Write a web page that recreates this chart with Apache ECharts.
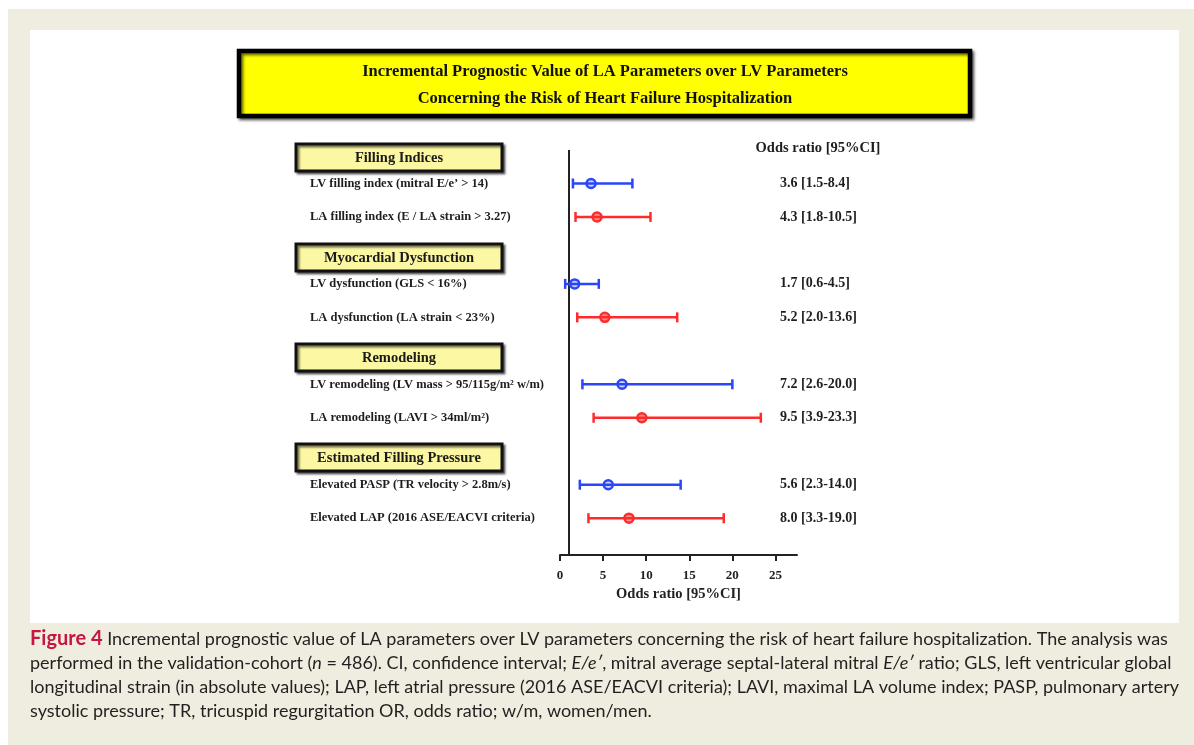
<!DOCTYPE html>
<html lang="en">
<head>
    <meta charset="utf-8">
    <title>Incremental Prognostic Value of LA Parameters</title>
    <script src="https://cdn.jsdelivr.net/npm/echarts@6.0.0/dist/echarts.min.js"></script>
    <style>
        html, body { margin: 0; padding: 0; background: #ffffff; }
        #chart { width: 1194px; height: 745px; }
    </style>
</head>
<body>
<div id="chart"></div>

<script type="text/javascript">
    // data
    var groupNames = ['Filling Indices', 'Myocardial Dysfunction', 'Remodeling', 'Estimated Filling Pressure'];
    var rowLabels = [
        'LV filling index (mitral E/e\u2019 > 14)',
        'LA filling index (E / LA strain > 3.27)',
        'LV dysfunction (GLS < 16%)',
        'LA dysfunction (LA strain < 23%)',
        'LV remodeling (LV mass > 95/115g/m\u00b2 w/m)',
        'LA remodeling (LAVI > 34ml/m\u00b2)',
        'Elevated PASP (TR velocity > 2.8m/s)',
        'Elevated LAP (2016 ASE/EACVI criteria)'
    ];
    var rowKind = ['LV', 'LA', 'LV', 'LA', 'LV', 'LA', 'LV', 'LA'];
    var oddsRatio = [3.6, 4.3, 1.7, 5.2, 7.2, 9.5, 5.6, 8.0];
    var ciLower = [1.5, 1.8, 0.6, 2.0, 2.6, 3.9, 2.3, 3.3];
    var ciUpper = [8.4, 10.5, 4.5, 13.6, 20.0, 23.3, 14.0, 19.0];
    var xTicks = [0, 5, 10, 15, 20, 25];

    var kindColor = { LV: '#2a46f7', LA: '#ff2a2a' };
    var kindFill = { LV: 'rgba(42,70,247,0.25)', LA: 'rgba(255,42,42,0.55)' };
    var serif = '"Liberation Serif", "DejaVu Serif", serif';
    var sans = 'Lato, "Open Sans", sans-serif';

    // every group takes one header slot and two row slots
    var slotOf = function(i) { return i + Math.floor(i / 2) + 1; };
    var rowSlots = [];
    var slotLabel = {};
    var slotOR = {};
    var barData = [];
    for (var i = 0; i < rowLabels.length; i++) {
        var s = slotOf(i);
        rowSlots.push(s);
        slotLabel[s] = rowLabels[i];
        slotOR[s] = oddsRatio[i].toFixed(1) + ' [' + ciLower[i].toFixed(1) + '-' + ciUpper[i].toFixed(1) + ']';
        barData.push([s, ciLower[i], oddsRatio[i], ciUpper[i], rowKind[i] === 'LV' ? 0 : 1]);
    }

    function renderBar(params, api) {
        var slot = api.value(0);
        var lo = api.coord([api.value(1), slot]);
        var mid = api.coord([api.value(2), slot]);
        var hi = api.coord([api.value(3), slot]);
        var kind = api.value(4) === 0 ? 'LV' : 'LA';
        var c = kindColor[kind];
        var st = { stroke: c, lineWidth: 2.5 };
        return {
            type: 'group',
            children: [
                { type: 'line', shape: { x1: lo[0], y1: lo[1], x2: hi[0], y2: hi[1] }, style: st },
                { type: 'line', shape: { x1: lo[0], y1: lo[1] - 5, x2: lo[0], y2: lo[1] + 5 }, style: st },
                { type: 'line', shape: { x1: hi[0], y1: hi[1] - 5, x2: hi[0], y2: hi[1] + 5 }, style: st },
                { type: 'circle', shape: { cx: mid[0], cy: mid[1], r: 4.5 }, style: { fill: kindFill[kind], stroke: c, lineWidth: 2.5 } }
            ]
        };
    }

    // header boxes on the left
    var headerGraphics = [];
    for (var g = 0; g < groupNames.length; g++) {
        headerGraphics.push({
            type: 'rect',
            shape: { x: 296, y: 144 + g * 100, width: 206, height: 27 },
            style: {
                fill: '#fbf7a2', stroke: '#111', lineWidth: 3,
                shadowBlur: 2, shadowOffsetX: 2, shadowOffsetY: 2, shadowColor: 'rgba(0,0,0,0.55)'
            },
            z: 10
        });
        headerGraphics.push({
            type: 'text',
            x: 399, y: 158 + g * 100,
            style: {
                text: groupNames[g], fill: '#1a1a1a',
                font: 'bold 14.5px ' + serif, align: 'center', verticalAlign: 'middle'
            },
            z: 11
        });
    }

    var captionLines = [
        '{r|Figure 4} Incremental prognostic value of LA parameters over LV parameters concerning the risk of heart failure hospitalization. The analysis was',
        'performed in the validation-cohort ({i|n} = 486). CI, confidence interval; {i|E/e\u2032}, mitral average septal-lateral mitral {i|E/e\u2032} ratio; GLS, left ventricular global',
        'longitudinal strain (in absolute values); LAP, left atrial pressure (2016 ASE/EACVI criteria); LAVI, maximal LA volume index; PASP, pulmonary artery',
        'systolic pressure; TR, tricuspid regurgitation OR, odds ratio; w/m, women/men.'
    ];
    var captionGraphics = captionLines.map(function(line, k) {
        return {
            type: 'text',
            x: 30, y: 639 + k * 24,
            style: {
                text: line, fill: '#231f20',
                font: '18px ' + sans,
                verticalAlign: 'middle',
                rich: {
                    r: { fill: '#c4163f', font: 'bold 20px ' + sans },
                    i: { font: 'italic 18px ' + sans, fill: '#231f20' }
                }
            }
        };
    });

    var myChart = echarts.init(document.getElementById('chart'), null, { renderer: 'canvas' });
    var option = {
        backgroundColor: '#ffffff',
        animation: false,
        grid: { left: 560, right: 397, top: 150, bottom: 190 },
        xAxis: {
            type: 'value',
            position: 'bottom',
            min: 0,
            max: 27.5,
            axisLine: { show: true, onZero: false, lineStyle: { color: '#222', width: 2 } },
            axisTick: { show: true, customValues: xTicks, length: 6, lineStyle: { color: '#222', width: 2 } },
            axisLabel: {
                customValues: xTicks, margin: 14,
                color: '#222', fontFamily: serif, fontWeight: 'bold', fontSize: 13
            },
            splitLine: { show: false },
            name: 'Odds ratio [95%CI]',
            nameLocation: 'middle',
            nameGap: 32,
            nameTextStyle: { color: '#222', fontFamily: serif, fontWeight: 'bold', fontSize: 14.5 }
        },
        yAxis: [
            {
                type: 'value',
                inverse: true,
                min: 0,
                max: 12.1,
                axisLine: { show: false },
                axisTick: { show: false },
                splitLine: { show: false },
                axisLabel: {
                    customValues: rowSlots,
                    formatter: function(v) { return slotLabel[v] || ''; },
                    align: 'left', margin: 250,
                    color: '#1e1e1e', fontFamily: serif, fontWeight: 'bold', fontSize: 12.5
                }
            },
            {
                type: 'value',
                position: 'right',
                inverse: true,
                min: 0,
                max: 12.1,
                axisLine: { show: false },
                axisTick: { show: false },
                splitLine: { show: false },
                axisLabel: {
                    customValues: rowSlots,
                    formatter: function(v) { return slotOR[v] || ''; },
                    align: 'left', margin: -17,
                    color: '#1e1e1e', fontFamily: serif, fontWeight: 'bold', fontSize: 14
                }
            }
        ],
        series: [
            {
                type: 'custom',
                renderItem: renderBar,
                encode: { x: [1, 2, 3], y: 0 },
                data: barData,
                z: 5,
                markLine: {
                    silent: true,
                    symbol: 'none',
                    label: { show: false },
                    lineStyle: { color: '#222', width: 2, type: 'solid' },
                    data: [{ xAxis: 1 }]
                }
            }
        ],
        graphic: [
            // page background and white figure panel
            { type: 'rect', shape: { x: 8, y: 9, width: 1186, height: 736 }, style: { fill: '#efece0' }, z: -10 },
            { type: 'rect', shape: { x: 30, y: 30, width: 1149, height: 593 }, style: { fill: '#ffffff' }, z: -9 },
            // title box
            {
                type: 'rect',
                shape: { x: 239, y: 51, width: 731, height: 65 },
                style: {
                    fill: '#ffff00', stroke: '#000', lineWidth: 4.5,
                    shadowBlur: 3, shadowOffsetX: 2, shadowOffsetY: 2, shadowColor: 'rgba(0,0,0,0.6)'
                },
                z: 10
            },
            {
                type: 'text', x: 605, y: 72,
                style: {
                    text: 'Incremental Prognostic Value of LA Parameters over LV Parameters',
                    fill: '#111', font: 'bold 16.5px ' + serif, align: 'center', verticalAlign: 'middle'
                },
                z: 11
            },
            {
                type: 'text', x: 605, y: 99,
                style: {
                    text: 'Concerning the Risk of Heart Failure Hospitalization',
                    fill: '#111', font: 'bold 16.5px ' + serif, align: 'center', verticalAlign: 'middle'
                },
                z: 11
            },
            {
                type: 'text', x: 818, y: 148,
                style: {
                    text: 'Odds ratio [95%CI]', fill: '#1e1e1e',
                    font: 'bold 14.5px ' + serif, align: 'center', verticalAlign: 'middle'
                }
            }
        ].concat(headerGraphics, captionGraphics)
    };
    myChart.setOption(option);
</script>
</body>
</html>
